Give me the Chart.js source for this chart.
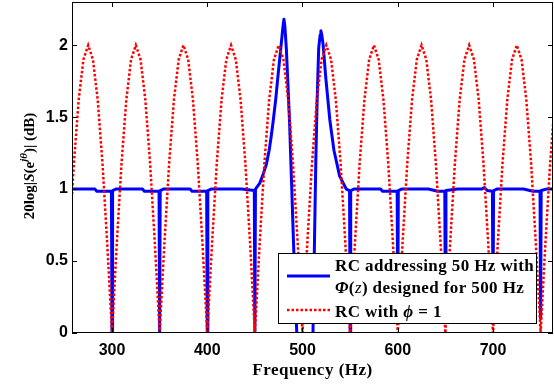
<!DOCTYPE html>
<html>
  <head>
    <title>
      RC magnitude response
    </title>
    <script src="https://cdn.jsdelivr.net/npm/chart.js"></script>
    <style>
      body { margin: 0; background: #fff; }
      #wrap { width: 554px; height: 385px; }
    </style>
  </head>
  <body>
    <div id="wrap">
      <canvas id="myChart" width="554" height="385"></canvas>
    </div>
    <script>
      'use strict'
      // tick labels
      const xTicks = [300, 400, 500, 600, 700];
      const yTicks = [0, 0.5, 1, 1.5, 2];

      const redFreq = [
        255, 260, 265, 270, 275, 280, 285, 290, 295,
        300, 305, 310, 315, 320, 325, 330, 335, 340, 345,
        350, 355, 360, 365, 370, 375, 380, 385, 390, 395,
        400, 405, 410, 415, 420, 425, 430, 435, 440, 445,
        450, 455, 460, 465, 470, 475, 480, 485, 490, 495,
        500, 505, 510, 515, 520, 525, 530, 535, 540, 545,
        550, 555, 560, 565, 570, 575, 580, 585, 590, 595,
        600, 605, 610, 615, 620, 625, 630, 635, 640, 645,
        650, 655, 660, 665, 670, 675, 680, 685, 690, 695,
        700, 705, 710, 715, 720, 725, 730, 735, 740, 745,
        750, 755, 760, 765
      ];
      const redVal = [
        0.62, 1.18, 1.62, 1.90, 2.00, 1.90, 1.62, 1.18, 0.62,
        0, 0.62, 1.18, 1.62, 1.90, 2.00, 1.90, 1.62, 1.18, 0.62,
        0, 0.62, 1.18, 1.62, 1.90, 2.00, 1.90, 1.62, 1.18, 0.62,
        0, 0.62, 1.18, 1.62, 1.90, 2.00, 1.90, 1.62, 1.18, 0.62,
        0, 0.62, 1.18, 1.62, 1.90, 2.00, 1.90, 1.62, 1.18, 0.62,
        0, 0.62, 1.18, 1.62, 1.90, 2.00, 1.90, 1.62, 1.18, 0.62,
        0, 0.62, 1.18, 1.62, 1.90, 2.00, 1.90, 1.62, 1.18, 0.62,
        0, 0.62, 1.18, 1.62, 1.90, 2.00, 1.90, 1.62, 1.18, 0.62,
        0, 0.62, 1.18, 1.62, 1.90, 2.00, 1.90, 1.62, 1.18, 0.62,
        0, 0.62, 1.18, 1.62, 1.90, 2.00, 1.90, 1.62, 1.18, 0.62,
        0, 0.62, 1.18, 1.62
      ];

      // RC addressing 50 Hz with Phi(z) designed for 500 Hz (solid blue)
      const blueFreq = [
        258, 282, 284, 299.4, 300, 300.6, 304,
        332, 334, 349.4, 350, 350.6, 354,
        382, 384, 399.4, 400, 400.6, 404,
        432, 436, 449.4, 450, 450.6, 455, 458, 462, 465, 467, 469, 472, 474, 476, 478, 479.5, 480.5,
        481.5, 483, 484.5, 486.5, 488.5, 490.5, 492.5, 494, 497, 500, 503, 506, 511,
        512.6, 514, 515.3, 517, 518.5, 519.3, 520.3, 521.7, 524.5, 528.7, 533, 539, 546, 549.4, 550, 550.6, 554,
        582, 584, 599.4, 600, 600.6, 604,
        632, 642, 649.4, 650, 650.6, 663,
        688, 691, 694, 699.4, 700, 700.6, 704,
        732, 742, 749.4, 750, 750.6, 756, 763
      ];
      const blueVal = [
        1.0, 1.0, 0.985, 0.985, 0, 0.99, 1.0,
        1.0, 0.985, 0.985, 0, 0.99, 1.0,
        1.0, 0.985, 0.985, 0, 0.99, 1.0,
        1.0, 1.0, 0.99, 0, 1.0, 1.04, 1.09, 1.17, 1.27, 1.36, 1.46, 1.63, 1.77, 1.90, 2.03, 2.13, 2.18,
        2.13, 1.98, 1.76, 1.45, 1.05, 0.64, 0.25, 0, -0.3, -0.4, -0.3, -0.2, 0,
        0.64, 1.2, 1.6, 1.98, 2.07, 2.10, 2.07, 2.0, 1.77, 1.48, 1.27, 1.09, 1.0, 0.99, 0, 0.99, 1.0,
        1.0, 0.985, 0.985, 0.08, 0.99, 1.0,
        1.0, 0.985, 0.985, 0.08, 0.99, 1.0,
        1.0, 1.01, 0.99, 0.985, 0.08, 0.99, 1.0,
        1.0, 0.985, 0.985, 0.1, 0.99, 1.0, 1.0
      ];

      const serif = '"Liberation Serif", "Times New Roman", serif';
      const sans = '"Liberation Sans", Arial, sans-serif';

      // draws a row of text pieces with different fonts, left to right
      function drawRich(ctx, parts, x, y, align) {
        let total = 0;
        parts.forEach(p => { ctx.font = p.f; total += ctx.measureText(p.t).width; });
        let cx = align === 'center' ? x - total / 2 : x;
        parts.forEach(p => {
          ctx.font = p.f;
          ctx.fillText(p.t, cx, y + (p.dy || 0));
          cx += ctx.measureText(p.t).width;
        });
      }

      const framePlugin = {
        id: 'frame',
        afterDraw(chart) {
          const ctx = chart.ctx;
          const a = chart.chartArea;
          const xs = chart.scales.x;
          const ys = chart.scales.y;
          ctx.save();
          ctx.strokeStyle = '#000';
          ctx.lineWidth = 1;
          ctx.strokeRect(a.left + 0.5, a.top + 0.5, a.right - a.left - 1, a.bottom - a.top - 1);
          ctx.beginPath();
          xTicks.forEach(v => {
            const px = Math.round(xs.getPixelForValue(v)) + 0.5;
            ctx.moveTo(px, a.bottom); ctx.lineTo(px, a.bottom - 5);
            ctx.moveTo(px, a.top); ctx.lineTo(px, a.top + 5);
          });
          yTicks.forEach(v => {
            const py = Math.round(ys.getPixelForValue(v)) + 0.5;
            ctx.moveTo(a.left, py); ctx.lineTo(a.left + 5, py);
            ctx.moveTo(a.right, py); ctx.lineTo(a.right - 5, py);
          });
          ctx.stroke();

          ctx.fillStyle = '#000';
          ctx.textBaseline = 'alphabetic';
          ctx.textAlign = 'left';
          // x title
          ctx.letterSpacing = '0.5px';
          drawRich(ctx, [{ t: 'Frequency (Hz)', f: 'bold 17px ' + serif }], (a.left + a.right) / 2, 375, 'center');
          ctx.letterSpacing = '0px';

          // y title
          ctx.save();
          ctx.translate(34, 166);
          ctx.rotate(-Math.PI / 2);
          drawRich(ctx, [
            { t: '20log|', f: 'bold 15px ' + serif },
            { t: 'S', f: 'italic bold 15px ' + serif },
            { t: '(e', f: 'bold 15px ' + serif },
            { t: 'jθ', f: 'italic bold 11px ' + serif, dy: -7 },
            { t: ')| (dB)', f: 'bold 15px ' + serif }
          ], 0, 0, 'center');
          ctx.restore();

          // legend
          const lx = 278, ly = 253, lw = 258, lh = 70;
          ctx.fillStyle = '#fff';
          ctx.fillRect(lx, ly, lw, lh);
          ctx.strokeStyle = '#000';
          ctx.lineWidth = 1;
          ctx.strokeRect(lx + 0.5, ly + 0.5, lw, lh);

          ctx.lineWidth = 3;
          ctx.strokeStyle = '#0000ff';
          ctx.beginPath();
          ctx.moveTo(287, 276); ctx.lineTo(330, 276);
          ctx.stroke();
          ctx.strokeStyle = '#ff0000';
          ctx.lineWidth = 2.5;
          ctx.setLineDash([2.5, 2]);
          ctx.beginPath();
          ctx.moveTo(287, 310); ctx.lineTo(330, 310);
          ctx.stroke();
          ctx.setLineDash([]);

          ctx.fillStyle = '#000';
          ctx.letterSpacing = '0.4px';
          const lf = 'bold 17px ' + serif;
          drawRich(ctx, [{ t: 'RC addressing 50 Hz with', f: lf }], 335, 271, 'left');
          drawRich(ctx, [
            { t: 'Φ', f: 'italic bold 17px ' + serif },
            { t: '(', f: lf },
            { t: 'z', f: 'italic 17px ' + serif },
            { t: ') designed for 500 Hz', f: lf }
          ], 335, 293, 'left');
          drawRich(ctx, [
            { t: 'RC with ', f: lf },
            { t: 'ϕ', f: 'italic bold 17px ' + serif },
            { t: ' = 1', f: lf }
          ], 335, 317, 'left');
          ctx.letterSpacing = '0px';
          ctx.restore();
        }
      };

      const ctx = document.getElementById('myChart');

      new Chart(ctx, {
        type: 'line',
        data: {
          datasets: [{
            label: 'RC with \u03d5 = 1',
            data: redFreq.map((f, i) => ({ x: f, y: redVal[i] })),
            borderColor: '#ff0000',
            borderWidth: 2.5,
            borderDash: [2.5, 2],
            pointRadius: 0,
            tension: 0,
          }, {
            label: 'RC addressing 50 Hz with \u03a6(z) designed for 500 Hz',
            data: blueFreq.map((f, i) => ({ x: f, y: blueVal[i] })),
            borderColor: '#0000ff',
            borderWidth: 3,
            borderJoinStyle: 'round',
            pointRadius: 0,
            tension: 0,
          }]
        },
        options: {
          responsive: false,
          animation: false,
          layout: { padding: { top: 2, right: 1, left: 0, bottom: 0 } },
          plugins: {
            legend: { display: false },
            tooltip: { enabled: false },
          },
          scales: {
            x: {
              type: 'linear',
              min: 258,
              max: 763,
              afterBuildTicks: scale => { scale.ticks = xTicks.map(v => ({ value: v })); },
              afterFit: scale => {
                scale.height = 52;
                scale.paddingLeft = 0; scale.paddingRight = 0;
              },
              grid: { display: false, drawTicks: false },
              border: { display: false },
              ticks: {
                padding: 8,
                color: '#000',
                font: { family: sans, size: 16, weight: 'bold' },
                maxRotation: 0,
              }
            },
            y: {
              min: 0,
              max: 2.3,
              afterBuildTicks: scale => { scale.ticks = yTicks.map(v => ({ value: v })); },
              afterFit: scale => {
                scale.width = 72;
                scale.paddingTop = 0; scale.paddingBottom = 0;
              },
              grid: { display: false, drawTicks: false },
              border: { display: false },
              ticks: {
                padding: 4,
                color: '#000',
                font: { family: sans, size: 16, weight: 'bold' },
                callback: v => String(v),
              }
            }
          }
        },
        plugins: [framePlugin]
      });
    </script>
  </body>
</html>
